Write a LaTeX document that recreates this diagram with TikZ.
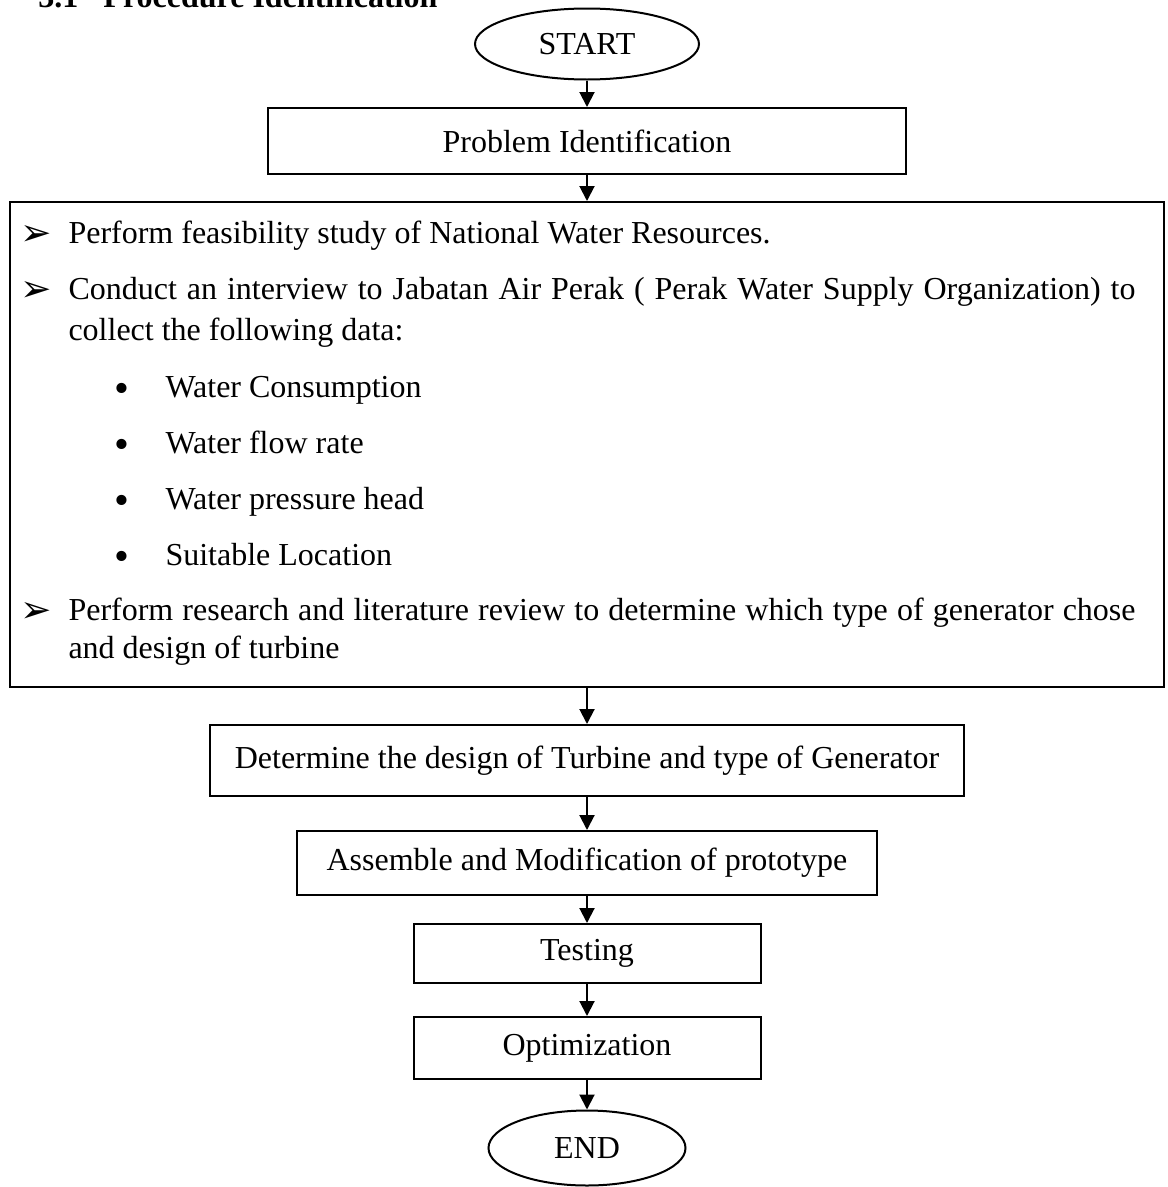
\documentclass[tikz,border=0pt]{standalone}
\usepackage{fontspec}
\setmainfont{Liberation Serif}
\newfontfamily\dingfont{DejaVu Sans}
\usetikzlibrary{shapes.geometric,arrows.meta}

\begin{document}
\begin{tikzpicture}[x=0.4pt,y=-0.4pt,
  every node/.style={font=\fontsize{12.8pt}{15pt}\selectfont, inner sep=0pt},
  procbox/.style={draw, line width=0.8pt, rectangle},
  termnode/.style={draw, line width=0.8pt, ellipse},
  bodyline/.style={anchor=base west},
  arrowmark/.style={anchor=base west, font=\dingfont\fontsize{15pt}{17pt}\selectfont},
  dotmark/.style={anchor=base west, font=\fontsize{17pt}{19pt}\selectfont},
  flowarrow/.style={line width=0.8pt, -{Triangle[length=6pt,width=6pt]}}]
\useasboundingbox (0,0) rectangle (1167,1187);
% heading, cut by the page edge
\node[bodyline, font=\fontsize{12.8pt}{15pt}\selectfont\bfseries] (head) at (38,7) {3.1\hspace{10pt}Procedure Identification};
% flow boxes
\node[termnode, minimum width=89.6pt, minimum height=28.4pt] (start) at (587,44) {START};
\node[procbox, minimum width=254.8pt, minimum height=26.4pt] (prob) at (587,141) {Problem Identification};
\node[procbox, minimum width=461.2pt, minimum height=194pt] (study) at (587,444.5) {};
\node[procbox, minimum width=301.2pt, minimum height=28.4pt] (design) at (587,760.5) {Determine the design of Turbine and type of Generator};
\node[procbox, minimum width=232pt, minimum height=25.6pt] (assemble) at (587,863) {Assemble and Modification of prototype\hspace{8pt}};
\node[procbox, minimum width=138.8pt, minimum height=23.6pt] (test) at (587,953.5) {Testing};
\node[procbox, minimum width=138.8pt, minimum height=24.8pt] (optim) at (587,1048) {Optimization};
\node[termnode, minimum width=78.8pt, minimum height=30pt] (end) at (587,1148) {END};
% text of the big box
\node[arrowmark] (m1) at (20,245) {➢};
\node[bodyline] (feas) at (68,243) {Perform feasibility study of National Water Resources.};
\node[arrowmark] (m2) at (20,301) {➢};
\node[bodyline] (intv) at (68,299) {\makebox[426.8pt][s]{Conduct an interview to Jabatan Air Perak ( Perak Water Supply Organization) to}};
\node[bodyline] (intvb) at (68,340) {collect the following data:};
\node[dotmark] (d1) at (114,402) {\textbullet};
\node[bodyline] (wc) at (165,397) {Water Consumption};
\node[dotmark] (d2) at (114,458) {\textbullet};
\node[bodyline] (wf) at (165,453) {Water flow rate};
\node[dotmark] (d3) at (114,514) {\textbullet};
\node[bodyline] (wp) at (165,509) {Water pressure head};
\node[dotmark] (d4) at (114,570) {\textbullet};
\node[bodyline] (sl) at (165,565) {Suitable Location};
\node[arrowmark] (m3) at (20,622) {➢};
\node[bodyline] (res) at (68,620) {\makebox[426.8pt][s]{Perform research and literature review to determine which type of generator chose}};
\node[bodyline] (resb) at (68,658) {and design of turbine};
% connectors
\draw[flowarrow] (start) -- (prob);
\draw[flowarrow] (prob) -- (study);
\draw[flowarrow] (study) -- (design);
\draw[flowarrow] (design) -- (assemble);
\draw[flowarrow] (assemble) -- (test);
\draw[flowarrow] (test) -- (optim);
\draw[flowarrow] (optim) -- (end);
\end{tikzpicture}
\end{document}
